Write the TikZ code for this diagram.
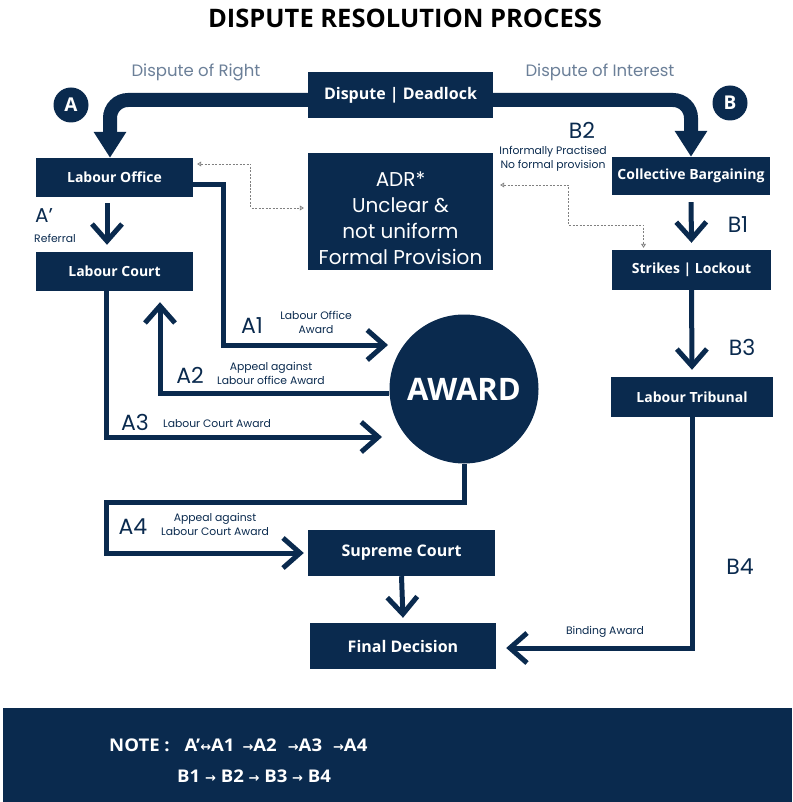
\documentclass[tikz,border=0pt]{standalone}
\usepackage{fontspec}
\setmainfont{Open Sans}
\newfontfamily\geo{Poppins}
\newfontfamily\dv{DejaVu Sans}
\newfontfamily\cond[FakeStretch=1.06]{Open Sans}
\usetikzlibrary{arrows.meta,calc}
\definecolor{navy}{HTML}{0A2A4E}
\definecolor{lbl}{HTML}{6B7F98}
\newcommand{\ar}[1]{{\dv\fontsize{13}{14}\selectfont #1}}
\begin{document}
\begin{tikzpicture}[x=1pt,y=-1pt,
  box/.style={fill=navy,text=white,inner sep=0pt,align=center,font=\bfseries\fontsize{14}{16}\selectfont},
  chev/.style={draw=navy,line width=5pt,-{Straight Barb[length=17pt,width=30pt]}},
  big/.style={draw=navy,line width=14pt,rounded corners=18pt,-{Triangle[length=26pt,width=31pt]}},
  dot/.style={draw=gray,line width=0.8pt,dash pattern=on 2pt off 1.5pt,{Triangle[open,length=4pt,width=5pt]}-{Triangle[open,length=4pt,width=5pt]}},
  lab/.style={text=navy,font=\geo\fontsize{22}{24}\selectfont,inner sep=0pt},
  small/.style={text=navy,font=\geo\fontsize{10.8}{14}\selectfont,inner sep=0pt,align=center},
  head/.style={text=lbl,font=\geo\fontsize{16.5}{18}\selectfont,inner sep=0pt},
  badge/.style={circle,fill=navy,text=white,minimum size=35pt,inner sep=0pt,font=\bfseries\fontsize{19}{21}\selectfont},
  note/.style={anchor=west,text=white,inner sep=0pt,font=\cond\bfseries\fontsize{17.5}{20}\selectfont}
]
\useasboundingbox (0,0) rectangle (792,802);

\node[font=\bfseries\fontsize{25.5}{28}\selectfont,inner sep=0pt] (title) at (405,18) {DISPUTE RESOLUTION PROCESS};

% boxes
\node[box,minimum width=185pt,minimum height=46pt,font=\bfseries\fontsize{16}{18}\selectfont] (dd) at (400.5,95) {Dispute | Deadlock};
\node[box,minimum width=157pt,minimum height=39pt] (lo) at (114.5,177.5) {Labour Office};
\node[box,minimum width=157pt,minimum height=39pt] (lc) at (114.5,271.5) {Labour Court};
\node[box,minimum width=185pt,minimum height=117pt] (adr) at (400.5,211.5) {};
\node[text=white,align=center,inner sep=0pt,font=\geo\fontsize{20}{26}\selectfont] (adrt) at ($(adr.center)+(0,7)$) {ADR*\\Unclear \&\\not uniform\\Formal Provision};
\node[box,minimum width=158pt,minimum height=38pt] (cb) at (691,176) {Collective Bargaining};
\node[box,minimum width=159pt,minimum height=40pt] (sl) at (691.5,270) {Strikes | Lockout};
\node[box,minimum width=162pt,minimum height=40pt] (lt) at (692,397) {Labour Tribunal};
\node[box,minimum width=187pt,minimum height=46pt,font=\bfseries\fontsize{16}{18}\selectfont] (sc) at (401.5,553) {Supreme Court};
\node[box,minimum width=186pt,minimum height=46pt,font=\bfseries\fontsize{16}{18}\selectfont] (fd) at (403,646) {Final Decision};
\node[circle,fill=navy,text=white,minimum size=149pt,inner sep=0pt,font=\bfseries\fontsize{31}{33}\selectfont] (award) at (464,389) {AWARD};

% badges
\node[badge] (ba) at (71,105) {A};
\node[badge] (bb) at (730,103) {B};

% headings
\node[head] (dr) at (196,72) {Dispute of Right};
\node[head] (di) at (600,72) {Dispute of Interest};

% thick arrows
\draw[big] ($(dd.west)+(0,5)$) -| ($(lo.north)+(-4.5,0)$);
\draw[big] ($(dd.east)+(0,5)$) -| (cb.north);

% A path
\draw[chev] ($(lo.south)+(-7.5,6)$) -- ($(lc.north)+(-7.5,-7)$);
\coordinate (a1end) at (388,345);
\draw[chev] ($(lo.east)+(0,7.5)$) -| (a1end -| 223,0) -- (a1end);
\coordinate (a2end) at ($(lc.south)+(45.5,11)$);
\draw[chev] ($(award.west)+(0,4)$) -| (a2end);
\coordinate (a3end) at (382,437);
\draw[chev] ($(lc.south)+(-8,0)$) |- (a3end);
\draw[chev] (award.south) -- ++(0,39) -| ($(sc.west)+(-201,0)$) -- ($(sc.west)+(-4,0)$);

\draw[chev] (sc.south) -- ($(fd.north)+(0,-5)$);

% B path
\draw[chev] ($(cb.south)+(0,7)$) -- ($(sl.north)+(0,-7)$);
\draw[chev] (sl.south) -- ($(lt.north)+(0,-7)$);
\draw[chev] (lt.south) |- ($(fd.east)+(10,2)$);

% dotted
\coordinate (d1s) at ($(lo.east)+(4,-13.5)$);
\coordinate (d1e) at ($(adr.west)+(-4,-3.5)$);
\draw[dot] (d1s) -| ($(d1s)!0.5!(d1e)$) |- (d1e);
\coordinate (d2s) at ($(adr.east)+(7,-26.5)$);
\coordinate (d2e) at ($(sl.north)+(-48,-2)$);
\draw[dot] (d2s) -| (568,225) -| (d2e);

% labels
\node[lab,font=\geo\fontsize{20}{22}\selectfont] (ap) at (44,216) {A’};
\node[small] (ref) at (55,238) {Referral};
\node[lab] (a1) at (252,326) {A1};
\node[small] (a1t) at (316,322) {Labour Office\\Award};
\node[lab] (a2) at (190,375) {A2};
\node[small] (a2t) at (271,373) {Appeal against\\Labour office Award};
\node[lab] (a3) at (135,422) {A3};
\node[small] (a3t) at (217,424) {Labour Court Award};
\node[lab] (a4) at (133,527) {A4};
\node[small] (a4t) at (215,524) {Appeal against\\Labour Court Award};
\node[lab] (b2) at (582,130) {B2};
\node[small] (b2t) at (553,159) {Informally Practised\\No formal provision};
\node[lab] (b1) at (738,225) {B1};
\node[lab] (b3) at (742,347) {B3};
\node[lab] (b4) at (740,567) {B4};
\node[small] (bat) at (605,632) {Binding Award};

% note bar
\fill[navy] (3,708) rectangle (792,802);
\node[note] (n1) at (109,745) {NOTE :\hspace{15pt}A’\ar{↔}A1\hspace{8pt}\ar{→}A2\hspace{11pt}\ar{→}A3\hspace{11pt}\ar{→}A4};
\node[note] (n2) at (177,776) {B1 \ar{→} B2 \ar{→} B3 \ar{→} B4};
\end{tikzpicture}
\end{document}
